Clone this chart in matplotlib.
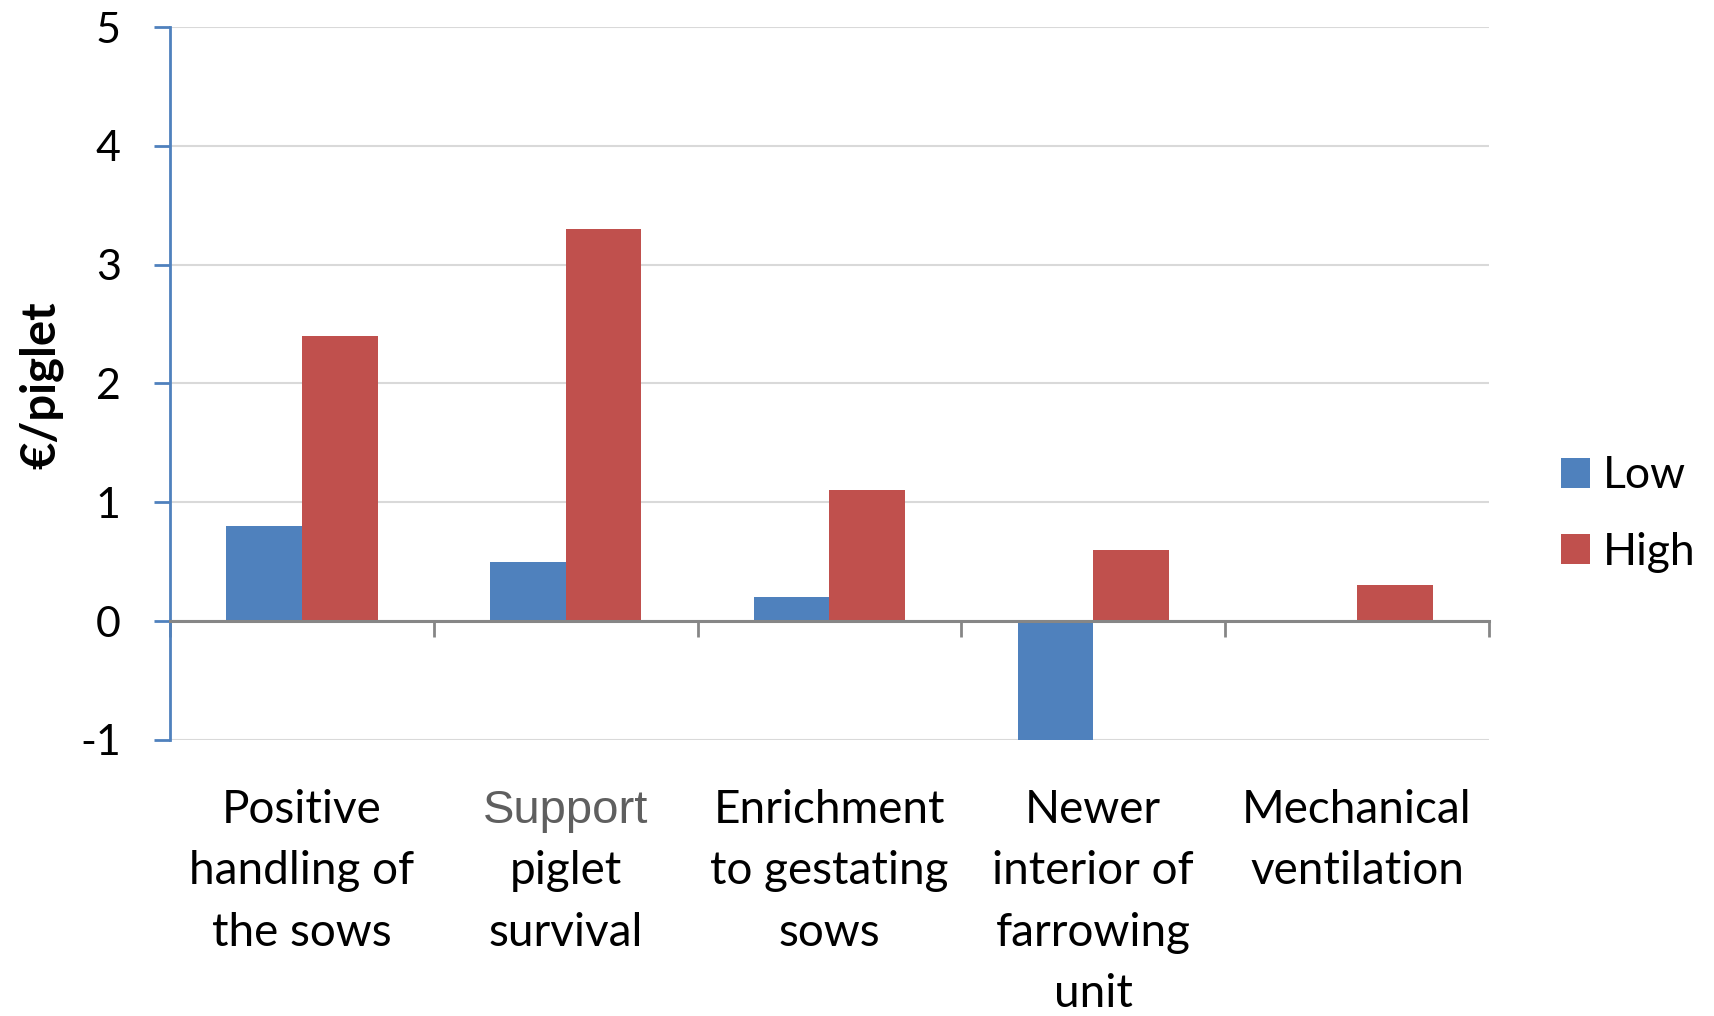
import numpy as np
import matplotlib
matplotlib.use('Agg')
import matplotlib.pyplot as plt

plt.rcParams['font.family'] = ['Lato', 'DejaVu Sans']

categories = ['Positive\nhandling of\nthe sows', 'Support\npiglet\nsurvival',
              'Enrichment\nto gestating\nsows', 'Newer\ninterior of\nfarrowing\nunit',
              'Mechanical\nventilation']
low = [0.8, 0.5, 0.2, -1.0, 0.0]
high = [2.4, 3.3, 1.1, 0.6, 0.3]
yticks = [-1, 0, 1, 2, 3, 4, 5]

blue = '#4F81BD'
red = '#C0504D'
grey = '#868686'

fig = plt.figure(figsize=(17.14, 10.16), dpi=100)
ax = fig.add_axes([0.0992, 0.2717, 0.7695, 0.7017])

x = np.arange(len(categories))
w = 0.287
ax.bar(x - w / 2, low, w, color=blue, label='Low', zorder=3)
ax.bar(x + w / 2, high, w, color=red, label='High', zorder=3)

ax.set_xlim(-0.5, len(categories) - 0.5)
ax.set_ylim(-1, 5)
ax.set_yticks(yticks)
ax.set_yticklabels([str(v) for v in yticks], fontsize=31)
ax.yaxis.grid(True, color='#D9D9D9', linewidth=1.5, zorder=0)
ax.set_axisbelow(True)

for s in ['top', 'right']:
    ax.spines[s].set_visible(False)
ax.spines['left'].set_color(blue)
ax.spines['left'].set_linewidth(2)
ax.spines['bottom'].set_position(('data', 0))
ax.spines['bottom'].set_color(grey)
ax.spines['bottom'].set_linewidth(2.2)
ax.spines['bottom'].set_zorder(4)

ax.tick_params(axis='y', direction='out', length=11.5, width=2, color=blue, pad=24)
ax.set_xticks(np.arange(len(categories) + 1) - 0.5)
ax.set_xticklabels([])
ax.tick_params(axis='x', direction='out', length=11.5, width=2, color=grey)

# category labels below the plot, one line at a time
trans = ax.get_xaxis_transform()
for i, lab in enumerate(categories):
    for j, line in enumerate(lab.split('\n')):
        ypos = (740 - (823 + 61.5 * j)) / 713
        if i == 1 and j == 0:
            ax.text(i, ypos, line, transform=trans, ha='center', va='baseline',
                    fontsize=34, color='#5F5F5F', family='Liberation Sans')
        else:
            ax.text(i, ypos, line, transform=trans, ha='center', va='baseline',
                    fontsize=33, color='black')

fig.text(0.024, 0.621, '€/piglet', rotation=90, fontsize=34, fontweight='bold',
         ha='center', va='center')

ax.legend(loc='center left', bbox_to_anchor=(0.9107, 0.494), bbox_transform=fig.transFigure,
          frameon=False, fontsize=32, handlelength=0.65, handleheight=0.65,
          handletextpad=0.3, labelspacing=0.8, borderpad=0, borderaxespad=0)

plt.savefig('out.png', dpi=100)
